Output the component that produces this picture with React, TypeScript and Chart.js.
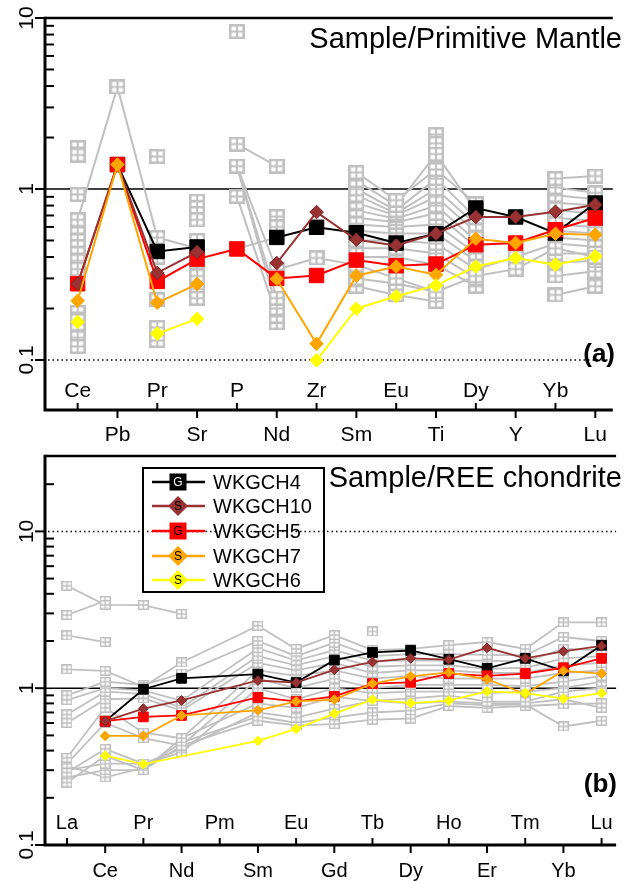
import { useEffect, useRef } from "react";
import { Chart, registerables } from "chart.js";
Chart.register(...registerables);

const N = null;
const FONT = "'Liberation Sans', Arial, Helvetica, sans-serif";
const GRAY = "#c0c0c0";

// ---------- series meta ----------
const seriesNames = ["WKGCH4", "WKGCH10", "WKGCH5", "WKGCH7", "WKGCH6"];
const seriesColors = ["#000000", "#993333", "#ff0000", "#ffa500", "#ffff00"];
const seriesShapes = ["rect", "rectRot", "rect", "rectRot", "rectRot"];
const seriesLetters = ["G", "S", "G", "S", "S"];

// ---------- panel (a): Sample / Primitive Mantle ----------
const catsA = ["Ce", "Pb", "Pr", "Sr", "P", "Nd", "Zr", "Sm", "Eu", "Ti", "Dy", "Y", "Yb", "Lu"];
const majorTicksA = [10, 1, 0.1];
const wkgch4A = [N, 1.39, 0.431, 0.458, N, 0.521, 0.597, 0.555, 0.483, 0.548, 0.774, 0.686, 0.552, 0.828];
const wkgch10A = [0.279, 1.39, 0.323, 0.428, N, 0.369, 0.733, 0.505, 0.468, 0.548, 0.686, 0.686, 0.736, 0.81];
const wkgch5A = [0.279, 1.39, 0.288, 0.389, 0.446, 0.3, 0.312, 0.384, 0.356, 0.364, 0.472, 0.483, 0.578, 0.676];
const wkgch7A = [0.222, 1.39, 0.216, 0.278, N, 0.298, 0.1245, 0.311, 0.352, 0.315, 0.512, 0.483, 0.548, 0.54];
const wkgch6A = [0.167, N, 0.1425, 0.174, N, N, 0.0995, 0.1995, 0.236, 0.273, 0.352, 0.395, 0.361, 0.404];

const grayA1 = [0.66, 3.95, 0.52, 0.45, N, N, N, N, N, N, N, N, N, N];
const grayA2 = [N, N, N, N, 1.83, 1.36, N, N, N, N, N, N, N, N];
const grayA3 = [N, N, N, N, 1.36, 0.337, 0.395, 0.36, 0.3, 0.25, 0.31, 0.34, 0.45, 0.4];
const grayA4 = [N, N, N, N, 1.36, 0.23, N, N, N, N, N, N, N, N];
const grayA5 = [N, N, N, N, 1.36, 0.2, N, N, N, N, N, N, N, N];
const grayA6 = [N, N, N, N, 0.905, 0.18, N, N, N, N, N, N, N, N];
const grayA7 = [N, N, N, N, 0.447, 0.52, N, N, N, N, N, N, N, N];
const grayA8 = [N, N, N, N, N, N, N, 1.25, 0.86, 1.3, 0.82, N, 1.15, 1.19];
const grayA9 = [N, N, N, N, N, N, N, 1.12, 0.8, 1.6, 0.75, N, 1.02, 0.95];
const grayA10 = [N, N, N, N, N, N, N, 1.0, 0.75, 1.15, 0.68, N, 0.92, 0.87];
const grayA11 = [N, N, N, N, N, N, N, 0.92, 0.72, 1.0, 0.62, N, 0.83, 0.8];
const grayA12 = [N, N, N, N, N, N, N, 0.83, 0.7, 0.9, 0.56, N, 0.75, 0.72];
const grayA13 = [N, N, N, N, N, N, N, 0.75, 0.67, 0.8, 0.5, N, 0.68, 0.65];
const grayA14 = [N, N, N, N, N, N, N, 0.68, 0.64, 0.72, 0.46, N, 0.62, 0.6];
const grayA15 = [N, N, N, N, N, N, N, 0.62, 0.6, 0.62, 0.42, N, 0.57, 0.55];
const grayA16 = [N, N, N, N, N, N, N, 0.57, 0.55, 0.55, 0.38, N, 0.52, 0.5];
const grayA17 = [N, N, N, N, N, N, N, 0.5, 0.5, 0.48, 0.34, 0.4, 0.48, 0.46];
const grayA18 = [N, N, N, N, N, N, N, 0.45, 0.45, 0.42, 0.3, N, 0.42, 0.42];
const grayA19 = [N, N, N, N, N, N, N, 0.4, 0.4, 0.36, 0.27, N, 0.37, 0.38];
const grayA20 = [N, N, N, N, N, N, N, 0.3, 0.28, 0.25, N, N, 0.31, 0.33];
const grayA21 = [N, N, N, N, N, N, N, 0.27, 0.24, 0.22, N, N, 0.24, 0.27];

const isoA_Ce = [1.75, 1.58, 0.93, 0.6, 0.55, 0.5, 0.46, 0.42, 0.38, 0.34, 0.19, 0.17, 0.15, 0.135, 0.12];
const isoA_Pr = [1.55, 0.45, 0.4, 0.225, 0.155, 0.13];
const isoA_Sr = [0.85, 0.78, 0.72, 0.66, 0.5, 0.4, 0.35, 0.31, 0.26, 0.23];
const isoA_P = [8.33];
const isoA_Nd = [0.69, 0.6, 0.165];
const isoA_Ti = [2.08, 1.85, 1.6, 1.4];

// ---------- panel (b): Sample / REE chondrite ----------
const catsB = ["La", "Ce", "Pr", "Nd", "Pm", "Sm", "Eu", "Gd", "Tb", "Dy", "Ho", "Er", "Tm", "Yb", "Lu"];
const majorTicksB = [10, 1, 0.1];
const wkgch4B = [N, 0.616, 0.985, 1.156, N, 1.23, 1.086, 1.51, 1.69, 1.74, 1.53, 1.34, 1.55, 1.29, 1.88];
const wkgch10B = [N, 0.616, 0.741, 0.836, N, 1.12, 1.086, 1.31, 1.47, 1.55, 1.52, 1.81, 1.55, 1.72, 1.86];
const wkgch5B = [N, 0.616, 0.656, 0.67, N, 0.873, 0.824, 0.887, 1.07, 1.09, 1.24, 1.2, 1.24, 1.35, 1.55];
const wkgch7B = [N, 0.496, 0.496, 0.67, N, 0.723, 0.824, 0.845, 1.07, 1.19, 1.26, 1.14, 0.92, 1.29, 1.24];
const wkgch6B = [N, 0.371, 0.328, N, N, 0.461, 0.55, 0.689, 0.845, 0.804, 0.832, 0.953, 0.93, 0.857, 0.93];

const grayB1 = [4.5, 3.4, 3.39, 2.98, N, N, N, N, N, N, N, N, N, N, N];
const grayB2 = [2.93, 3.6, N, N, N, N, N, N, N, N, N, N, N, N, N];
const grayB3 = [2.17, 1.97, N, N, N, N, N, N, N, N, N, N, N, N, N];
const grayB4 = [1.32, 1.29, 1.02, 1.46, N, 2.5, 1.78, 2.18, 1.75, 1.78, 1.88, 1.97, 1.78, 2.63, 2.63];
const grayB5 = [0.9, 1.1, 1.05, 1.24, N, 2.0, 1.6, 1.95, 1.6, 1.65, 1.65, 1.63, 1.62, 2.12, 2.0];
const grayB6 = [0.84, 1.0, 0.97, 0.83, N, 1.8, 1.5, 1.75, 1.5, 1.5, 1.5, 1.5, 1.48, 1.78, 1.75];
const grayB7 = [0.68, 0.95, 0.92, 0.75, N, 1.6, 1.4, 1.6, 1.37, 1.4, 1.4, 1.33, 1.35, 1.55, 1.6];
const grayB8 = [0.6, 0.85, 0.86, 0.72, N, 1.45, 1.3, 1.45, 1.25, 1.3, 1.3, 1.25, 1.25, 1.4, 1.45];
const grayB9 = [0.36, 0.75, 0.52, 0.48, N, 1.3, 1.2, 1.3, 1.15, 1.2, 1.15, 1.15, 1.15, 1.25, 1.3];
const grayB10 = [0.33, 0.6, 0.48, 0.43, N, 1.15, 1.0, 1.15, 1.0, 1.05, 1.05, 1.05, 1.03, 1.1, 1.2];
const grayB11 = [0.29, 0.41, 0.33, 0.39, N, 1.0, 0.85, 1.0, 0.93, 0.95, 0.95, 0.93, 0.95, 1.0, 1.1];
const grayB12 = [0.25, 0.37, 0.3, 0.48, N, 0.8, 0.75, 0.88, 0.83, 0.86, 0.9, 0.82, 0.82, 0.95, 1.0];
const grayB13 = [0.3, 0.33, 0.33, 0.41, N, 0.7, 0.65, 0.74, 0.83, 0.8, 0.82, 0.8, 0.8, 0.85, 0.75];
const grayB14 = [0.27, 0.3, 0.3, 0.43, N, 0.62, 0.58, 0.59, 0.63, 0.64, 0.77, 0.75, 0.77, 0.79, 0.8];
const grayB15 = [0.32, 0.27, 0.31, 0.45, N, 0.66, 0.6, 0.65, 0.7, 0.72, 0.8, 0.78, 0.79, 0.57, 0.62];
const isoB_Tb = [2.3];

type Arr = (number | null)[];

function toPts(arr: Arr) {
  return arr.map((v, i) => ({ x: i, y: v }));
}

function makeGrayMarker(w: number, h: number, lw: number, inner: number) {
  const c = document.createElement("canvas");
  c.width = w;
  c.height = h;
  const g = c.getContext("2d")!;
  g.fillStyle = "#fff";
  g.fillRect(0, 0, w, h);
  g.strokeStyle = GRAY;
  g.lineWidth = lw;
  g.strokeRect(lw / 2, lw / 2, w - lw, h - lw);
  g.lineWidth = inner;
  g.beginPath();
  g.moveTo(w / 2, 0);
  g.lineTo(w / 2, h);
  g.moveTo(0, h / 2);
  g.lineTo(w, h / 2);
  g.stroke();
  return c;
}

function buildDatasets(
  colored: Arr[],
  grays: Arr[],
  iso: [number, number[]][],
  marker: HTMLCanvasElement,
  o: { sq: number; dia: number; lw: number; glw: number; spanGaps: boolean }
) {
  const ds: any[] = [];
  const order = [4, 3, 1, 2, 0]; // topmost first
  for (const i of order) {
    ds.push({
      data: toPts(colored[i]),
      borderColor: seriesColors[i],
      backgroundColor: seriesColors[i],
      borderWidth: o.lw,
      pointStyle: seriesShapes[i],
      pointRadius: seriesShapes[i] === "rect" ? o.sq : o.dia,
      pointBorderWidth: 1,
      pointBorderColor: i === 1 ? "#7d2626" : seriesColors[i],
      pointBackgroundColor: seriesColors[i],
      spanGaps: o.spanGaps,
      tension: 0,
      fill: false,
    });
  }
  for (const g of grays) {
    ds.push({
      data: toPts(g),
      borderColor: GRAY,
      backgroundColor: GRAY,
      borderWidth: o.glw,
      pointStyle: marker,
      pointRadius: 5,
      spanGaps: o.spanGaps,
      tension: 0,
      fill: false,
    });
  }
  for (const [ci, vals] of iso) {
    ds.push({
      data: vals.map((v) => ({ x: ci, y: v })),
      showLine: false,
      borderColor: GRAY,
      pointStyle: marker,
      pointRadius: 5,
    });
  }
  return ds;
}

type PanelCfg = {
  offY: number;
  cats: string[];
  majors: number[];
  minors: number[];
  solid: number;
  dotted: number;
  inBase: number;
  outBase: number;
  catFont: number;
  title: string;
  titleBase: number;
  label: string;
  labelBase: number;
  labelRight: number;
  legend?: { box: [number, number, number, number]; rows: number[] };
};

function drawLegend(ctx: CanvasRenderingContext2D, cfg: PanelCfg) {
  if (!cfg.legend) return;
  const [x0, y0, x1, y1] = cfg.legend.box;
  const oy = cfg.offY;
  ctx.save();
  ctx.strokeStyle = "#000";
  ctx.lineWidth = 2;
  ctx.strokeRect(x0, y0 - oy, x1 - x0, y1 - y0);
  cfg.legend.rows.forEach((ry, i) => {
    const y = ry - oy;
    const col = seriesColors[i];
    ctx.strokeStyle = col;
    ctx.lineWidth = 2.6;
    ctx.beginPath();
    ctx.moveTo(152, y);
    ctx.lineTo(205, y);
    ctx.stroke();
    const cx = 178;
    ctx.fillStyle = col;
    if (seriesShapes[i] === "rect") {
      ctx.fillRect(cx - 8.5, y - 8.5, 17, 17);
    } else {
      ctx.beginPath();
      ctx.moveTo(cx - 10, y);
      ctx.lineTo(cx, y - 10);
      ctx.lineTo(cx + 10, y);
      ctx.lineTo(cx, y + 10);
      ctx.closePath();
      ctx.fill();
    }
    ctx.fillStyle = i === 0 ? "#fff" : "#000";
    ctx.font = `12px ${FONT}`;
    ctx.textAlign = "center";
    ctx.textBaseline = "middle";
    ctx.fillText(seriesLetters[i], cx, y + 1);
    ctx.fillStyle = "#000";
    ctx.font = `20px ${FONT}`;
    ctx.textAlign = "left";
    ctx.textBaseline = "alphabetic";
    ctx.fillText(seriesNames[i], 213, y + 7);
  });
  ctx.restore();
}

function panelPlugin(cfg: PanelCfg) {
  return {
    id: "panelDeco",
    beforeDatasetsDraw(chart: any) {
      const { ctx, chartArea: ca, scales } = chart;
      const ys = scales.y;
      ctx.save();
      ctx.strokeStyle = "#000";
      ctx.lineWidth = 1.5;
      let py = ys.getPixelForValue(cfg.solid);
      ctx.beginPath();
      ctx.moveTo(ca.left, py);
      ctx.lineTo(ca.right, py);
      ctx.stroke();
      ctx.setLineDash([1.5, 3]);
      py = ys.getPixelForValue(cfg.dotted);
      ctx.beginPath();
      ctx.moveTo(ca.left + 3, py);
      ctx.lineTo(ca.right, py);
      ctx.stroke();
      ctx.restore();
    },
    afterDraw(chart: any) {
      const { ctx, chartArea: ca, scales } = chart;
      const xs = scales.x;
      const ys = scales.y;
      ctx.save();
      ctx.strokeStyle = "#000";
      ctx.fillStyle = "#000";
      // frame
      ctx.lineWidth = 2.5;
      ctx.beginPath();
      ctx.moveTo(ca.left, ca.top);
      ctx.lineTo(ca.right, ca.top);
      ctx.stroke();
      ctx.lineWidth = 3;
      ctx.beginPath();
      ctx.moveTo(ca.left, ca.top - 1.25);
      ctx.lineTo(ca.left, ca.bottom);
      ctx.lineTo(ca.right, ca.bottom);
      ctx.stroke();
      // y ticks
      ctx.lineWidth = 2;
      for (const m of cfg.majors) {
        const py = ys.getPixelForValue(m);
        ctx.beginPath();
        ctx.moveTo(ca.left - 10, py);
        ctx.lineTo(ca.left, py);
        ctx.stroke();
        ctx.save();
        ctx.translate(33, py);
        ctx.rotate(-Math.PI / 2);
        ctx.font = `21px ${FONT}`;
        ctx.textAlign = "center";
        ctx.textBaseline = "alphabetic";
        ctx.fillText(String(m), 0, 0);
        ctx.restore();
      }
      for (const m of cfg.minors) {
        const py = ys.getPixelForValue(m);
        ctx.beginPath();
        ctx.moveTo(ca.left, py);
        ctx.lineTo(ca.left + 9, py);
        ctx.stroke();
      }
      // x ticks + labels
      ctx.font = `${cfg.catFont}px ${FONT}`;
      ctx.textAlign = "center";
      ctx.textBaseline = "alphabetic";
      cfg.cats.forEach((c, i) => {
        const px = xs.getPixelForValue(i);
        ctx.beginPath();
        if (i % 2 === 0) {
          ctx.moveTo(px, ca.bottom);
          ctx.lineTo(px, ca.bottom - 7);
        } else {
          ctx.moveTo(px, ca.bottom);
          ctx.lineTo(px, ca.bottom + 8);
        }
        ctx.stroke();
        ctx.fillText(c, px, i % 2 === 0 ? ca.bottom + cfg.inBase : ca.bottom + cfg.outBase);
      });
      // title
      ctx.font = `29px ${FONT}`;
      ctx.textAlign = "right";
      ctx.fillText(cfg.title, 622, cfg.titleBase - cfg.offY);
      ctx.font = `bold 26px ${FONT}`;
      ctx.fillText(cfg.label, cfg.labelRight, cfg.labelBase - cfg.offY);
      ctx.restore();
      drawLegend(ctx, cfg);
    },
  };
}

function minorsFor(lo: number, hi: number) {
  const out: number[] = [];
  for (let d = lo; d < hi; d *= 10) {
    for (let k = 2; k <= 9; k++) out.push(Math.round(d * k * 1000) / 1000);
  }
  return out;
}

export default function App() {
  const refA = useRef<HTMLCanvasElement>(null);
  const refB = useRef<HTMLCanvasElement>(null);

  useEffect(() => {
    document.body.style.margin = "0";
    const markerA = makeGrayMarker(16, 15, 2.5, 2);
    const markerB = makeGrayMarker(11, 10, 1.5, 1.5);

    const coloredA = [wkgch4A, wkgch10A, wkgch5A, wkgch7A, wkgch6A];
    const graysA = [grayA1, grayA2, grayA3, grayA4, grayA5, grayA6, grayA7, grayA8, grayA9, grayA10, grayA11, grayA12, grayA13, grayA14, grayA15, grayA16, grayA17, grayA18, grayA19, grayA20, grayA21];
    const isoA: [number, number[]][] = [
      [catsA.indexOf("Ce"), isoA_Ce],
      [catsA.indexOf("Pr"), isoA_Pr],
      [catsA.indexOf("Sr"), isoA_Sr],
      [catsA.indexOf("P"), isoA_P],
      [catsA.indexOf("Nd"), isoA_Nd],
      [catsA.indexOf("Ti"), isoA_Ti],
    ];
    const coloredB = [wkgch4B, wkgch10B, wkgch5B, wkgch7B, wkgch6B];
    const graysB = [grayB1, grayB2, grayB3, grayB4, grayB5, grayB6, grayB7, grayB8, grayB9, grayB10, grayB11, grayB12, grayB13, grayB14, grayB15];
    const isoB: [number, number[]][] = [[catsB.indexOf("Tb"), isoB_Tb]];

    const cfgA: PanelCfg = {
      offY: 0,
      cats: catsA,
      majors: majorTicksA,
      minors: minorsFor(0.1, 10),
      solid: 1,
      dotted: 0.1,
      inBase: -13,
      outBase: 31,
      catFont: 21,
      title: "Sample/Primitive Mantle",
      titleBase: 48,
      label: "(a)",
      labelBase: 362,
      labelRight: 615,
    };
    const cfgB: PanelCfg = {
      offY: 448,
      cats: catsB,
      majors: majorTicksB,
      minors: [...minorsFor(0.1, 10), 20],
      solid: 1,
      dotted: 10,
      inBase: -16,
      outBase: 32,
      catFont: 20,
      title: "Sample/REE chondrite",
      titleBase: 487,
      label: "(b)",
      labelBase: 792,
      labelRight: 617,
      legend: { box: [143, 468, 324, 592], rows: [482, 506, 531, 556, 580] },
    };

    const common = (padding: any, xmin: number, xmax: number, ymin: number, ymax: number) => ({
      responsive: false,
      maintainAspectRatio: false,
      animation: false,
      devicePixelRatio: 1,
      events: [],
      layout: { padding },
      plugins: { legend: { display: false }, tooltip: { enabled: false }, title: { display: false } },
      scales: {
        x: { type: "linear", display: false, min: xmin, max: xmax, bounds: "data" },
        y: { type: "logarithmic", display: false, min: ymin, max: ymax },
      },
    });

    const chartA = new Chart(refA.current!, {
      type: "line",
      data: {
        datasets: buildDatasets(coloredA, graysA, isoA, markerA, { sq: 10.2, dia: 6.8, lw: 2, glw: 2, spanGaps: false }),
      },
      options: common({ left: 45, top: 18, right: 0, bottom: 38 }, -0.82, 13.44, 0.051, 10) as any,
      plugins: [panelPlugin(cfgA) as any],
    });
    const chartB = new Chart(refB.current!, {
      type: "line",
      data: {
        datasets: buildDatasets(coloredB, graysB, isoB, markerB, { sq: 6.9, dia: 4.9, lw: 1.8, glw: 1.8, spanGaps: true }),
      },
      options: common({ left: 45, top: 4, right: 0, bottom: 36 }, -0.576, 14.38, 0.1, 30.3) as any,
      plugins: [panelPlugin(cfgB) as any],
    });
    return () => {
      chartA.destroy();
      chartB.destroy();
    };
  }, []);

  return (
    <div style={{ position: "relative", width: 624, height: 881, background: "#fff", overflow: "hidden" }}>
      <canvas ref={refA} width={624} height={448} style={{ position: "absolute", left: 0, top: 0, width: 624, height: 448 }} />
      <canvas ref={refB} width={624} height={433} style={{ position: "absolute", left: 0, top: 448, width: 624, height: 433 }} />
    </div>
  );
}
